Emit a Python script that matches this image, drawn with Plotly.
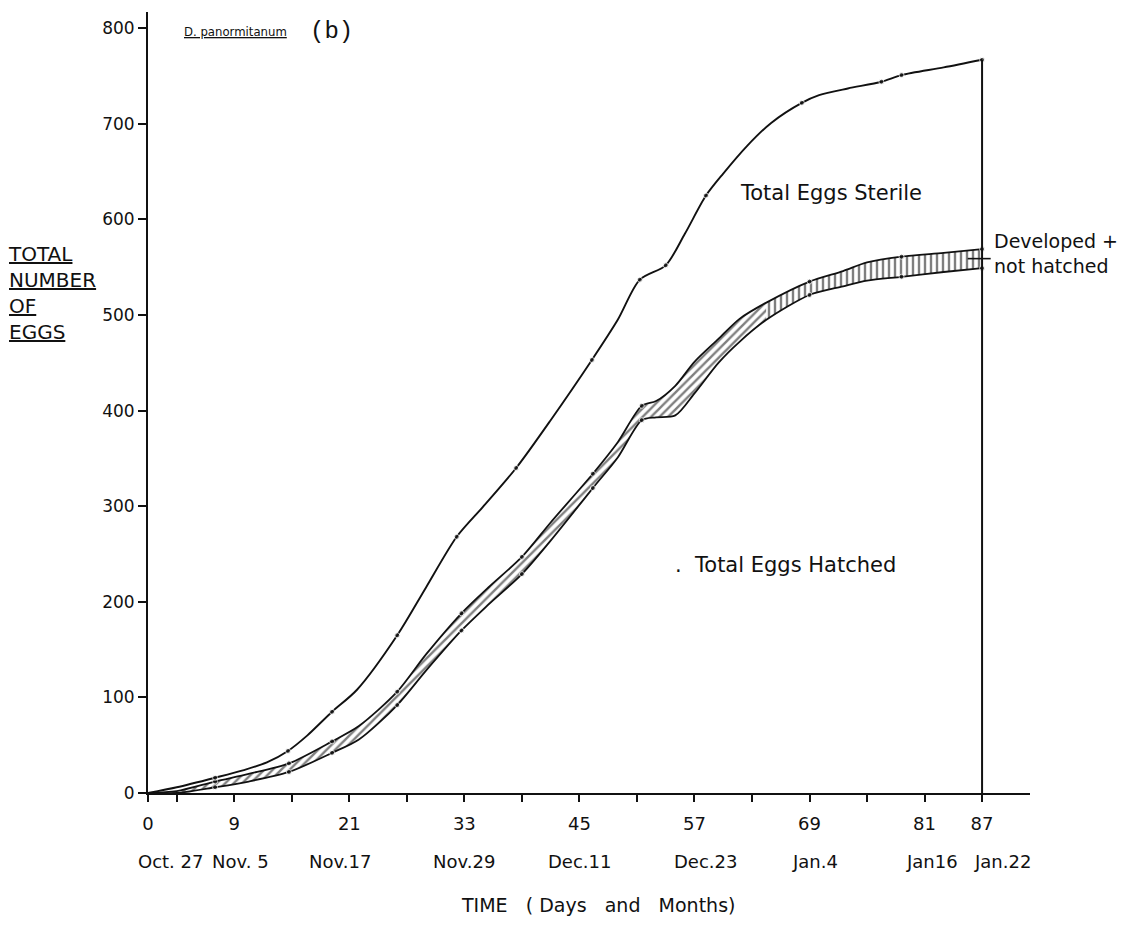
import plotly.graph_objects as go

# Cumulative egg counts for D. panormitanum over the 87-day observation period
sterile_days = [0, 3, 7, 10, 12.4, 14.6, 16.6, 19.2, 21.8, 26, 29, 32.2, 35, 38.4, 42,
                46.3, 49, 51.3, 54, 56, 58.2, 60, 62.5, 65, 68.2, 70, 73, 76.5, 78.6, 83, 87]
sterile_vals = [0, 6, 16, 24, 32, 44, 60, 85, 108, 165, 215, 268, 300, 340, 390,
                453, 495, 537, 552, 585, 625, 648, 677, 701, 722, 730, 737, 744, 751, 759, 767]
sterile_dot = [0, 0, 1, 0, 0, 1, 0, 1, 0, 1, 0, 1, 0, 1, 0,
               1, 0, 1, 1, 0, 1, 0, 0, 0, 1, 0, 0, 1, 1, 0, 1]

band_days = [0, 3, 7, 10.5, 14.7, 19.2, 22, 26, 29, 32.7, 35.5, 39, 42, 46.4, 49,
             51.5, 53, 55, 57, 59.5, 61.7, 64.5, 69, 72.5, 75, 78.6, 83, 87]
# hatched + developed-not-hatched (upper edge of the band)
developed_vals = [0, 2, 12, 20, 31, 54, 70, 106, 145, 188, 215, 247, 283, 334, 367,
                  405, 410, 426, 451, 475, 496, 513, 535, 546, 555, 561, 565, 569]
# total hatched (lower edge of the band)
hatched_vals = [0, 0, 6, 12, 22, 42, 56, 92, 128, 170, 197, 229, 264, 319, 351,
                390, 393, 395, 418, 450, 472, 495, 521, 530, 536, 540, 545, 549]
band_dot = [0, 0, 1, 0, 1, 1, 0, 1, 0, 1, 0, 1, 0, 1, 0,
            1, 0, 0, 0, 0, 0, 0, 1, 0, 0, 1, 0, 1]

x_ticks = [0, 3, 9, 15, 21, 27, 33, 39, 45, 51, 57, 63, 69, 75, 81, 87]
x_tick_text = ["0", "", "9", "", "21", "", "33", "", "45", "", "57", "", "69", "", "81", "87"]
date_days = [0, 9, 21, 33, 45, 57, 69, 81, 87]
date_labels = ["Oct. 27", "Nov. 5", "Nov.17", "Nov.29", "Dec.11", "Dec.23", "Jan.4", "Jan16", "Jan.22"]
y_ticks = [0, 100, 200, 300, 400, 500, 600, 700, 800]

FONT = "DejaVu Sans, Liberation Sans, sans-serif"
NARROW = "Liberation Sans Narrow, DejaVu Sans Condensed, Arial Narrow, sans-serif"
INK = "#111111"

fig = go.Figure()

# hatched band between total hatched and hatched + developed
split = band_days.index(64.5)
for lo, hi, shape in [(0, split + 1, "/"), (split, len(band_days), "|")]:
    fig.add_trace(go.Scatter(x=band_days[lo:hi], y=hatched_vals[lo:hi], mode="lines",
                             line=dict(width=0, color=INK, shape="spline", smoothing=0.8),
                             showlegend=False, hoverinfo="skip"))
    fig.add_trace(go.Scatter(x=band_days[lo:hi], y=developed_vals[lo:hi], mode="lines",
                             line=dict(width=0, color=INK, shape="spline", smoothing=0.8),
                             fill="tonexty", fillcolor="white",
                             fillpattern=dict(shape=shape, fgcolor="#000000", bgcolor="white",
                                              size=6, solidity=0.4),
                             showlegend=False, hoverinfo="skip"))


def dot_sizes(mask):
    return [5 if m else 0 for m in mask]


fig.add_trace(go.Scatter(x=band_days, y=hatched_vals, mode="lines+markers",
                         line=dict(color=INK, width=1.8, shape="spline", smoothing=0.8),
                         marker=dict(size=dot_sizes(band_dot), color=INK),
                         name="Total Eggs Hatched", showlegend=False))
fig.add_trace(go.Scatter(x=band_days, y=developed_vals, mode="lines+markers",
                         line=dict(color=INK, width=1.8, shape="spline", smoothing=0.8),
                         marker=dict(size=dot_sizes(band_dot), color=INK),
                         name="Developed + not hatched", showlegend=False))
fig.add_trace(go.Scatter(x=sterile_days, y=sterile_vals, mode="lines+markers",
                         line=dict(color=INK, width=1.9, shape="spline", smoothing=0.8),
                         marker=dict(size=dot_sizes(sterile_dot), color=INK),
                         name="Total Eggs Sterile", showlegend=False))

# closing vertical line at the last observation day
fig.add_trace(go.Scatter(x=[sterile_days[-1], sterile_days[-1]], y=[0, sterile_vals[-1]],
                         mode="lines", line=dict(color=INK, width=2), showlegend=False,
                         hoverinfo="skip"))

# leader from the band to its label
fig.add_shape(type="line", x0=85.5, x1=87.9, y0=559, y1=559,
              line=dict(color=INK, width=1.6))

fig.update_xaxes(range=[0, 92], showline=True, linecolor=INK, linewidth=2,
                 ticks="outside", ticklen=7, tickwidth=2, tickcolor=INK,
                 tickvals=x_ticks, ticktext=x_tick_text, ticklabelstandoff=6,
                 tickfont=dict(family=FONT, size=18, color=INK),
                 showgrid=False, zeroline=False)
fig.update_yaxes(range=[0, 817], showline=True, linecolor=INK, linewidth=2,
                 ticks="outside", ticklen=8, tickwidth=2, tickcolor=INK,
                 tickvals=y_ticks, tickfont=dict(family=FONT, size=17, color=INK),
                 showgrid=False, zeroline=False)

date_shift = [22, 6, -9, 0, 0, 11, 5, 7, 20]
for d, lab, sh in zip(date_days, date_labels, date_shift):
    fig.add_annotation(x=d, y=-0.088, xref="x", yref="paper", text=lab, showarrow=False,
                       xanchor="center", yanchor="middle", xshift=sh,
                       font=dict(family=FONT, size=18, color=INK))

fig.add_annotation(x=0.51, y=-0.144, xref="paper", yref="paper",
                   text="TIME   ( Days   and   Months)", showarrow=False,
                   xanchor="center", yanchor="middle",
                   font=dict(family=FONT, size=19, color=INK))

fig.add_annotation(x=-0.161, y=0.64, xref="paper", yref="paper",
                   text="<u>TOTAL</u><br><u>NUMBER</u><br><u>OF</u><br><u>EGGS</u>",
                   showarrow=False, xanchor="left", yanchor="middle", align="left",
                   font=dict(family=FONT, size=20, color=INK))

fig.add_annotation(x=0.039, y=0.975, xref="paper", yref="paper",
                   text="<u>D. panormitanum</u>", showarrow=False,
                   xanchor="left", yanchor="middle",
                   font=dict(family=NARROW, size=13, color=INK))
fig.add_annotation(x=0.181, y=0.975, xref="paper", yref="paper",
                   text="(b)", showarrow=False, xanchor="left", yanchor="middle",
                   font=dict(family="Liberation Mono, DejaVu Sans Mono, monospace",
                             size=24, color=INK))

fig.add_annotation(x=71.2, y=628, text="Total Eggs Sterile", showarrow=False,
                   xanchor="center", yanchor="middle",
                   font=dict(family=FONT, size=21, color=INK))
fig.add_annotation(x=66.5, y=238, text=".  Total Eggs Hatched", showarrow=False,
                   xanchor="center", yanchor="middle",
                   font=dict(family=FONT, size=21, color=INK))
fig.add_annotation(x=88.0, y=564, text="Developed +<br>not hatched", showarrow=False,
                   xanchor="left", yanchor="middle", align="left",
                   font=dict(family=FONT, size=19, color=INK))

fig.update_layout(width=1138, height=929, paper_bgcolor="white", plot_bgcolor="white",
                  margin=dict(l=148, r=108, t=12, b=136), showlegend=False)

fig.write_html("out.html")
